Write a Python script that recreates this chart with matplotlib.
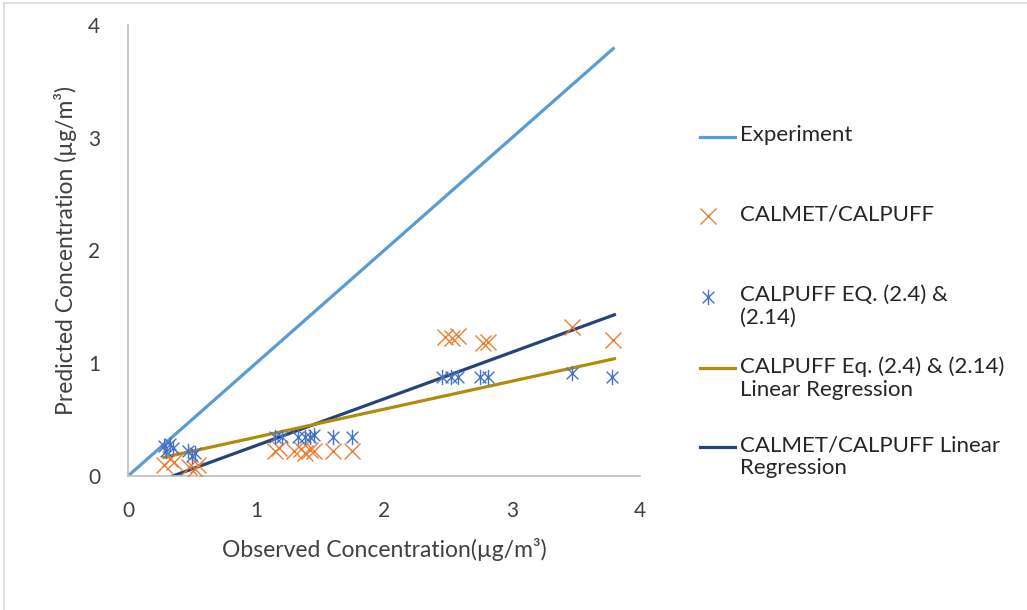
import numpy as np
import matplotlib.pyplot as plt
from matplotlib.lines import Line2D
from matplotlib.path import Path

plt.rcParams['font.family'] = ['Lato', 'DejaVu Sans']

# Experiment (1:1 line)
exp_x = [0.0, 3.8]
exp_y = [0.0, 3.8]

# CALMET/CALPUFF points
calmet_x = [0.28, 0.33, 0.36, 0.48, 0.52, 0.55, 1.15, 1.18, 1.3, 1.35, 1.38, 1.42, 1.45,
            1.6, 1.75, 2.48, 2.53, 2.58, 2.77, 2.81, 3.47, 3.79]
calmet_y = [0.10, 0.15, 0.12, 0.08, 0.06, 0.10, 0.22, 0.25, 0.22, 0.24, 0.20, 0.23, 0.22,
            0.22, 0.22, 1.23, 1.22, 1.24, 1.18, 1.19, 1.32, 1.21]

# CALPUFF Eq. (2.4) & (2.14) points
eq_x = [0.28, 0.30, 0.33, 0.35, 0.47, 0.50, 0.52, 1.15, 1.20, 1.33, 1.38, 1.42, 1.45,
        1.60, 1.75, 2.45, 2.52, 2.58, 2.75, 2.81, 3.47, 3.78]
eq_y = [0.27, 0.22, 0.28, 0.25, 0.22, 0.18, 0.20, 0.35, 0.35, 0.35, 0.35, 0.35, 0.36,
        0.35, 0.35, 0.88, 0.88, 0.88, 0.88, 0.88, 0.91, 0.88]

# regression lines (end points)
eq_reg_x = [0.28, 3.8]
eq_reg_y = [0.165, 1.04]
calmet_reg_x = [0.35, 3.8]
calmet_reg_y = [0.0, 1.43]

labels = ['Experiment', 'CALMET/CALPUFF', 'CALPUFF EQ. (2.4) &\n(2.14)',
          'CALPUFF Eq. (2.4) & (2.14)\nLinear Regression', 'CALMET/CALPUFF Linear\nRegression']

c_exp = '#5B9BD5'
c_calmet = '#ED7D31'
c_eq = '#4472C4'
c_gold = '#B08C0C'
c_navy = '#264478'

# Excel style asterisk: an X with a vertical bar
ast = Path([(-1, -1), (1, 1), (-1, 1), (1, -1), (0, -1.3), (0, 1.3)],
           [Path.MOVETO, Path.LINETO] * 3)

W, H = 1027, 610
fig = plt.figure(figsize=(W / 100, H / 100), dpi=100)
ax = fig.add_axes([128 / W, 1 - 476 / H, 512 / W, 451 / H])

ax.plot(exp_x, exp_y, color=c_exp, lw=2.3, solid_capstyle='butt', zorder=2)
ax.plot(calmet_reg_x, calmet_reg_y, color=c_navy, lw=2.3, zorder=2)
ax.plot(eq_reg_x, eq_reg_y, color=c_gold, lw=2.3, zorder=2)
ax.plot(calmet_x, calmet_y, ls='none', marker='x', ms=11, mew=1.0, color=c_calmet, zorder=3)
ax.plot(eq_x, eq_y, ls='none', marker=ast, ms=11, mew=1.0, color=c_eq, zorder=3)

ax.set_xlim(0, 4)
ax.set_ylim(0, 4)
ax.set_xticks(range(5))
ax.set_yticks(range(5))
ax.tick_params(length=0, labelsize=15, colors='#404040')
ax.tick_params(axis='x', pad=18)
ax.tick_params(axis='y', pad=20)
for s in ['top', 'right']:
    ax.spines[s].set_visible(False)
for s in ['left', 'bottom']:
    ax.spines[s].set_color('#BFBFBF')
    ax.spines[s].set_linewidth(1.2)
ax.set_xlabel('Observed Concentration(µg/m³)', fontsize=16.5, color='#404040', labelpad=12)
ax.set_ylabel('Predicted Concentration (µg/m³)', fontsize=16.5, color='#404040', labelpad=8)

# hand-placed legend (uneven spacing like the original)
rows = [137, 216, 297, 368, 447]
kinds = ['line', 'x', 'ast', 'line', 'line']
cols = [c_exp, c_calmet, c_eq, c_gold, c_navy]
for y, kind, col, lab in zip(rows, kinds, cols, labels):
    yf = 1 - y / H
    if kind == 'line':
        fig.add_artist(Line2D([700 / W, 735 / W], [yf, yf], color=col, lw=2.3,
                              transform=fig.transFigure))
    else:
        fig.add_artist(Line2D([708 / W], [yf], ls='none', marker='x' if kind == 'x' else ast,
                              ms=11, mew=1.0, color=col, transform=fig.transFigure))
    fig.text(740 / W, yf + 12 / H, lab, fontsize=16, color='#262626', va='top', ha='left',
             linespacing=1.2)

# light frame of the chart area
fig.add_artist(Line2D([4 / W, 1], [1 - 3 / H, 1 - 3 / H], color='#D9D9D9', lw=1.2,
                      transform=fig.transFigure))
fig.add_artist(Line2D([4 / W, 4 / W], [0, 1 - 3 / H], color='#D9D9D9', lw=1.2,
                      transform=fig.transFigure))

fig.savefig('out.png', dpi=100)
